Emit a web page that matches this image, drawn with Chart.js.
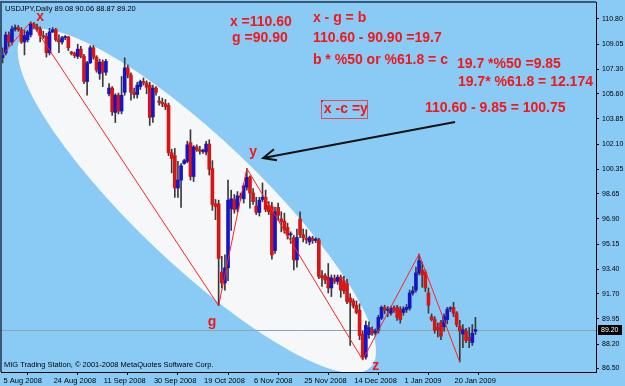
<!DOCTYPE html>
<html>
<head>
<meta charset="utf-8">
<title>USDJPY Daily</title>
<script src="https://cdn.jsdelivr.net/npm/chart.js@4.4.1/dist/chart.umd.min.js"></script>
<style>
  html, body { margin: 0; padding: 0; background: #8ACBF5; }
  canvas { display: block; }
</style>
</head>
<body>
<canvas id="chart" width="625" height="386"></canvas>
<script>
// daily USDJPY candles, 5 Aug 2008 .. 28 Jan 2009
const opens = [
  108.10, 108.44, 109.69, 109.20, 110.10, 110.20, 110.05, 109.20, 109.35, 109.70,
  110.45, 110.25, 110.10, 109.65, 109.60, 108.45, 109.90, 110.05, 109.35, 109.20,
  109.50, 109.55, 108.50, 108.40, 108.20, 108.70, 108.20, 106.45, 107.75, 108.80,
  108.15, 107.00, 107.80, 107.10, 105.60, 106.00, 104.30, 105.50, 104.40, 105.70,
  107.40, 106.90, 105.70, 105.55, 106.10, 106.45, 106.35, 106.20, 104.00, 106.00,
  105.10, 105.00, 104.90, 104.80, 101.50, 101.30, 99.05, 99.60, 100.75, 100.90,
  102.20, 99.85, 101.90, 101.70, 101.60, 101.55, 102.10, 100.40, 97.95, 97.95,
  93.20, 92.45, 93.50, 97.60, 98.25, 97.60, 98.50, 98.30, 99.10, 99.80,
  98.70, 97.80, 97.35, 98.25, 98.40, 97.85, 97.75, 94.70, 97.70, 96.90,
  96.75, 96.30, 95.80, 95.60, 94.05, 96.90, 95.80, 95.55, 95.30, 95.55,
  95.40, 95.45, 92.95, 92.95, 92.85, 92.10, 92.75, 92.55, 92.85, 92.60,
  92.40, 91.40, 91.20, 90.90, 90.55, 88.90, 87.30, 88.85, 89.20, 89.00,
  89.15, 90.00, 90.75, 90.55, 90.35, 90.70, 90.75, 90.60, 90.40, 90.60,
  90.70, 91.75, 91.95, 93.15, 93.35, 93.20, 91.75, 90.10, 89.90, 89.35,
  89.70, 89.40, 89.90, 90.65, 90.75, 90.35, 89.45, 88.90, 89.10, 88.65,
  88.30, 89.08
];
const highs = [
  108.80, 109.90, 109.90, 110.30, 110.40, 110.35, 110.20, 110.00, 110.00, 110.60,
  110.55, 110.45, 110.25, 109.95, 109.80, 110.15, 110.20, 110.15, 109.70, 109.60,
  109.65, 109.60, 108.55, 108.50, 109.05, 108.90, 108.35, 107.85, 108.95, 108.95,
  108.25, 108.00, 107.95, 108.00, 106.30, 106.10, 105.60, 105.65, 106.80, 108.10,
  107.60, 107.05, 106.00, 106.40, 106.55, 106.70, 106.50, 106.40, 106.20, 106.10,
  105.40, 105.30, 105.20, 104.95, 101.75, 101.80, 100.90, 100.75, 101.05, 102.30,
  103.10, 102.00, 102.05, 101.95, 101.75, 102.30, 102.40, 100.95, 98.25, 98.20,
  94.30, 94.40, 99.60, 98.90, 98.60, 98.80, 98.70, 99.35, 100.40, 99.90,
  99.00, 98.40, 98.40, 99.40, 98.90, 98.10, 98.05, 97.70, 98.00, 97.40,
  97.30, 96.60, 96.00, 95.75, 96.20, 97.40, 96.20, 96.15, 95.70, 95.70,
  95.60, 95.55, 93.30, 93.10, 93.80, 93.00, 93.00, 93.00, 93.00, 92.90,
  92.70, 91.70, 91.35, 91.20, 91.00, 89.10, 89.80, 89.75, 89.40, 89.25,
  90.20, 90.85, 90.90, 90.80, 90.80, 90.85, 90.90, 90.80, 90.80, 90.95,
  91.95, 92.20, 93.55, 94.45, 93.90, 93.35, 92.10, 90.30, 90.10, 89.65,
  89.85, 90.30, 90.75, 90.80, 91.10, 90.45, 89.85, 89.55, 89.30, 89.35,
  89.55, 90.06
];
const lows = [
  107.74, 108.30, 108.90, 109.00, 109.95, 109.95, 109.10, 108.30, 109.20, 109.55,
  110.15, 109.95, 109.20, 109.45, 108.15, 108.30, 109.85, 109.25, 108.45, 109.05,
  109.35, 108.60, 108.30, 108.10, 108.05, 108.10, 106.30, 105.50, 107.70, 108.00,
  107.10, 106.60, 106.10, 106.90, 105.45, 104.10, 103.60, 104.20, 104.20, 105.50,
  106.70, 105.15, 105.30, 105.30, 105.90, 106.20, 105.60, 103.40, 103.60, 105.50,
  104.80, 104.70, 104.50, 101.30, 100.10, 98.40, 98.40, 97.70, 100.70, 100.80,
  99.60, 99.50, 101.60, 101.40, 101.45, 101.35, 99.95, 97.50, 96.85, 90.87,
  92.10, 91.95, 92.60, 96.10, 97.30, 97.40, 98.20, 98.00, 98.90, 97.65,
  97.90, 97.20, 97.10, 98.10, 97.40, 97.20, 94.10, 94.50, 96.80, 96.00,
  95.90, 95.50, 95.20, 93.35, 93.55, 95.60, 95.30, 95.20, 95.10, 95.20,
  95.25, 92.75, 92.20, 92.40, 91.75, 91.50, 92.40, 92.35, 91.45, 91.70,
  91.00, 88.10, 90.70, 90.30, 88.50, 87.10, 87.15, 88.60, 88.80, 88.85,
  88.95, 89.90, 90.30, 90.10, 90.20, 90.40, 89.85, 89.65, 90.20, 90.40,
  90.55, 91.60, 91.80, 93.00, 92.15, 91.85, 90.35, 89.80, 88.95, 88.70,
  88.50, 89.10, 89.60, 90.45, 90.10, 89.40, 86.95, 87.95, 88.30, 87.95,
  88.10, 88.87
];
const closes = [
  108.30, 109.69, 109.20, 110.10, 110.20, 110.05, 109.20, 109.65, 109.90, 110.45,
  110.25, 110.10, 109.65, 109.55, 108.45, 109.90, 110.05, 109.35, 109.20, 109.50,
  109.55, 108.80, 108.40, 108.25, 108.70, 108.20, 106.45, 107.75, 108.80, 108.15,
  107.25, 107.80, 107.10, 107.85, 106.00, 104.35, 105.50, 104.40, 105.50, 107.40,
  106.90, 105.70, 105.55, 106.20, 106.45, 106.35, 106.05, 103.95, 106.00, 105.70,
  105.00, 104.90, 104.70, 101.50, 101.10, 99.05, 99.60, 100.60, 100.95, 102.05,
  99.85, 101.90, 101.70, 101.60, 101.65, 102.10, 100.35, 97.90, 97.75, 94.15,
  92.45, 93.50, 98.20, 98.30, 97.55, 98.50, 98.40, 99.20, 99.80, 98.70,
  98.10, 97.35, 98.20, 98.40, 97.55, 97.40, 94.40, 97.40, 97.15, 96.70,
  96.10, 95.75, 95.85, 94.05, 95.60, 95.80, 95.60, 95.45, 95.60, 95.40,
  95.50, 92.90, 92.80, 92.65, 92.10, 92.80, 92.55, 92.85, 91.95, 91.90,
  91.15, 91.10, 90.85, 90.40, 88.80, 87.30, 89.50, 89.35, 88.95, 89.10,
  90.05, 90.75, 90.55, 90.60, 90.70, 90.55, 90.05, 89.90, 90.65, 90.75,
  91.75, 91.90, 93.15, 94.00, 93.00, 92.10, 90.90, 89.90, 89.15, 89.20,
  88.75, 90.10, 90.60, 90.70, 90.35, 89.55, 89.10, 89.20, 88.45, 88.45,
  88.95, 89.20
];

// zigzag pivots (bar index, price)
const zzIdx = [0, 9, 69, 78, 115, 133, 146];
const zzVal = [108.30, 110.60, 90.87, 100.40, 87.10, 94.45, 86.95];

// price scale labels as shown on the right
const yTicks = [110.80, 109.05, 107.30, 105.60, 103.85, 102.10, 100.35, 98.65,
                96.90, 95.15, 93.40, 91.70, 89.95, 88.20, 86.50];
const yMin = 86.257, yMax = 111.98;

// time scale labels
const tickLabels = ['5 Aug 2008', '24 Aug 2008', '11 Sep 2008', '30 Sep 2008', '19 Oct 2008',
                    '6 Nov 2008', '25 Nov 2008', '14 Dec 2008', '1 Jan 2009', '20 Jan 2009'];

// bar slots on screen (data + empty space on the right), Saturdays have no bar
const MON = ['Jan','Feb','Mar','Apr','May','Jun','Jul','Aug','Sep','Oct','Nov','Dec'];
const nSlots = 190;
const days = [];
for (let d = new Date(2008, 7, 5); days.length < nSlots; d.setDate(d.getDate() + 1)) {
    if (d.getDay() === 6) continue;
    days.push(d.getDate() + ' ' + MON[d.getMonth()] + ' ' + d.getFullYear());
}

// drawn objects, anchored at (bar index, price)
const notes = [
    { text: 'x =110.60', at: [72.6, 110.59] },
    { text: 'g =90.90', at: [73.3, 109.48] },
    { text: 'x - g = b', at: [99.1, 110.87] },
    { text: '110.60 - 90.90 =19.7', at: [99.1, 109.48] },
    { text: 'b * %50 or %61.8 = c', at: [99.1, 107.95] },
    { text: '19.7 *%50 =9.85', at: [145.1, 107.67] },
    { text: '19.7* %61.8 = 12.174', at: [145.4, 106.42] },
    { text: '110.60 - 9.85 = 100.75', at: [134.9, 104.61] }
];
const boxNote = { text: 'x -c =y', at: [102.6, 104.54] };
const pivotNames = [
    { text: 'x', at: [12.0, 110.94] },
    { text: 'y', at: [80.0, 101.55] },
    { text: 'g', at: [66.9, 89.73] },
    { text: 'z', at: [119.2, 86.67] }
];
const arrowFrom = [144.5, 103.64], arrowTo = [83.2, 101.13];
const ellipseEnds = [[6.5, 109.68], [117.6, 86.60]];
const ellipseRatio = 0.26;

const lastBar = closes.length - 1;
const header = 'USDJPY,Daily ' + [opens, highs, lows, closes].map(a => a[lastBar].toFixed(2)).join(' ');

const FONT = "'Liberation Sans', Arial, sans-serif";
const RED = '#F01818';

function px(chart, pt) {
    return [chart.scales.x.getPixelForValue(pt[0]), chart.scales.y.getPixelForValue(pt[1])];
}

const zigzag = closes.map(() => null);
zzIdx.forEach((i, k) => { zigzag[i] = zzVal[k]; });

// background, white ellipse, bid line
const underlay = {
    id: 'underlay',
    beforeDraw(chart) {
        const ctx = chart.ctx;
        ctx.save();
        ctx.fillStyle = '#8ACBF5';
        ctx.fillRect(0, 0, chart.width, chart.height);
        ctx.restore();
    },
    beforeDatasetsDraw(chart) {
        const ctx = chart.ctx, area = chart.chartArea;
        ctx.save();
        ctx.beginPath();
        ctx.rect(area.left, area.top, area.right - area.left, area.bottom - area.top);
        ctx.clip();
        const [x1, y1] = px(chart, ellipseEnds[0]);
        const [x2, y2] = px(chart, ellipseEnds[1]);
        const a = Math.hypot(x2 - x1, y2 - y1) / 2;
        ctx.beginPath();
        ctx.ellipse((x1 + x2) / 2, (y1 + y2) / 2, a, a * ellipseRatio, Math.atan2(y2 - y1, x2 - x1), 0, Math.PI * 2);
        ctx.fillStyle = '#F6F7F8';
        ctx.fill();
        // bid line
        const by = Math.round(chart.scales.y.getPixelForValue(closes[lastBar])) + 0.5;
        ctx.strokeStyle = '#8DA2B5';
        ctx.lineWidth = 1;
        ctx.beginPath();
        ctx.moveTo(area.left, by);
        ctx.lineTo(area.right, by);
        ctx.stroke();
        ctx.restore();
    }
};

// texts, arrow and frame
const overlay = {
    id: 'overlay',
    afterDatasetsDraw(chart) {
        const ctx = chart.ctx;
        ctx.save();
        ctx.fillStyle = RED;
        ctx.font = 'bold 14px ' + FONT;
        ctx.textAlign = 'left';
        ctx.textBaseline = 'middle';
        notes.forEach(n => {
            const [x, y] = px(chart, n.at);
            ctx.fillText(n.text, x, y);
        });

        // boxed note
        const [bx, by] = px(chart, boxNote.at);
        ctx.fillText(boxNote.text, bx, by);
        const w = ctx.measureText(boxNote.text).width;
        ctx.strokeStyle = '#E04A5A';
        ctx.lineWidth = 1;
        ctx.strokeRect(Math.round(bx) - 2.5, Math.round(by) - 8.5, Math.round(w) + 2, 18);
        ctx.fillRect(Math.round(bx) - 3, Math.round(by) - 9, 2, 2);

        ctx.textAlign = 'center';
        pivotNames.forEach(n => {
            const [x, y] = px(chart, n.at);
            ctx.fillText(n.text, x, y);
        });

        // arrow
        const [ax1, ay1] = px(chart, arrowFrom);
        const [ax2, ay2] = px(chart, arrowTo);
        const ang = Math.atan2(ay1 - ay2, ax1 - ax2);
        ctx.strokeStyle = '#111';
        ctx.lineWidth = 2;
        ctx.beginPath();
        ctx.moveTo(ax1, ay1);
        ctx.lineTo(ax2, ay2);
        ctx.moveTo(ax2 + 14 * Math.cos(ang - 0.5), ay2 + 14 * Math.sin(ang - 0.5));
        ctx.lineTo(ax2, ay2);
        ctx.lineTo(ax2 + 14 * Math.cos(ang + 0.35), ay2 + 14 * Math.sin(ang + 0.35));
        ctx.stroke();
        ctx.restore();
    },
    afterDraw(chart) {
        const ctx = chart.ctx, area = chart.chartArea;
        ctx.save();
        // window frame
        ctx.strokeStyle = '#3A5875';
        ctx.lineWidth = 2;
        ctx.beginPath();
        ctx.moveTo(area.left, area.bottom);
        ctx.lineTo(area.left, area.top);
        ctx.lineTo(area.right, area.top);
        ctx.stroke();

        ctx.fillStyle = '#000';
        ctx.font = '7.5px ' + FONT;
        ctx.textAlign = 'left';
        ctx.textBaseline = 'middle';
        ctx.fillText(header, 5, 9);
        ctx.fillText('MIG Trading Station, \u00A9 2001-2008 MetaQuotes Software Corp.', 4, 365);

        // current price tag
        const y = chart.scales.y.getPixelForValue(closes[lastBar]);
        ctx.fillStyle = '#000';
        ctx.fillRect(area.right + 2, Math.round(y) - 5, 24, 10);
        ctx.fillStyle = '#fff';
        ctx.font = '7px ' + FONT;
        ctx.fillText(closes[lastBar].toFixed(2), area.right + 5, Math.round(y) + 0.5);
        ctx.restore();
    }
};

const ctx = document.getElementById('chart').getContext('2d');

new Chart(ctx, {
    type: 'bar',
    data: {
        labels: days,
        datasets: [
            {
                type: 'line',
                label: 'ZigZag',
                data: zigzag,
                spanGaps: true,
                borderColor: '#FF2222',
                borderWidth: 1,
                pointRadius: 0,
                order: 0
            },
            {
                label: 'Body',
                data: opens.map((o, i) => [Math.min(o, closes[i]), Math.max(o, closes[i])]),
                backgroundColor: opens.map((o, i) => closes[i] >= o ? '#1414C8' : '#D81414'),
                barThickness: 3,
                minBarLength: 1,
                grouped: false,
                order: 1
            },
            {
                label: 'Wick',
                data: lows.map((l, i) => [l, highs[i]]),
                backgroundColor: '#3A3A3A',
                barThickness: 1,
                grouped: false,
                order: 2
            }
        ]
    },
    options: {
        responsive: false,
        animation: false,
        devicePixelRatio: 1,
        layout: { padding: { left: 1, top: 2, right: 0, bottom: 0 } },
        plugins: {
            legend: { display: false },
            tooltip: { enabled: false }
        },
        scales: {
            x: {
                type: 'category',
                offset: true,
                afterBuildTicks: s => { s.ticks = s.ticks.filter(t => tickLabels.includes(days[t.value])); },
                afterFit: s => { s.height = 14; s.paddingLeft = 0; s.paddingRight = 0; },
                grid: { drawOnChartArea: false, drawTicks: true, tickLength: 3, color: '#000' },
                border: { color: '#000', width: 1 },
                ticks: {
                    autoSkip: false,
                    maxRotation: 0,
                    align: 'start',
                    labelOffset: 1,
                    padding: 1,
                    color: '#000',
                    font: { family: FONT, size: 7.5 }
                }
            },
            y: {
                position: 'right',
                min: yMin,
                max: yMax,
                afterBuildTicks: s => { s.ticks = yTicks.map(v => ({ value: v })); },
                afterFit: s => { s.width = 29; s.paddingTop = 0; s.paddingBottom = 0; },
                grid: { drawOnChartArea: false, drawTicks: true, tickLength: 3, color: '#000' },
                border: { color: '#000', width: 1 },
                ticks: {
                    padding: 3,
                    color: '#000',
                    font: { family: FONT, size: 7 },
                    callback: v => v.toFixed(2)
                }
            }
        }
    },
    plugins: [underlay, overlay]
});
</script>
</body>
</html>
